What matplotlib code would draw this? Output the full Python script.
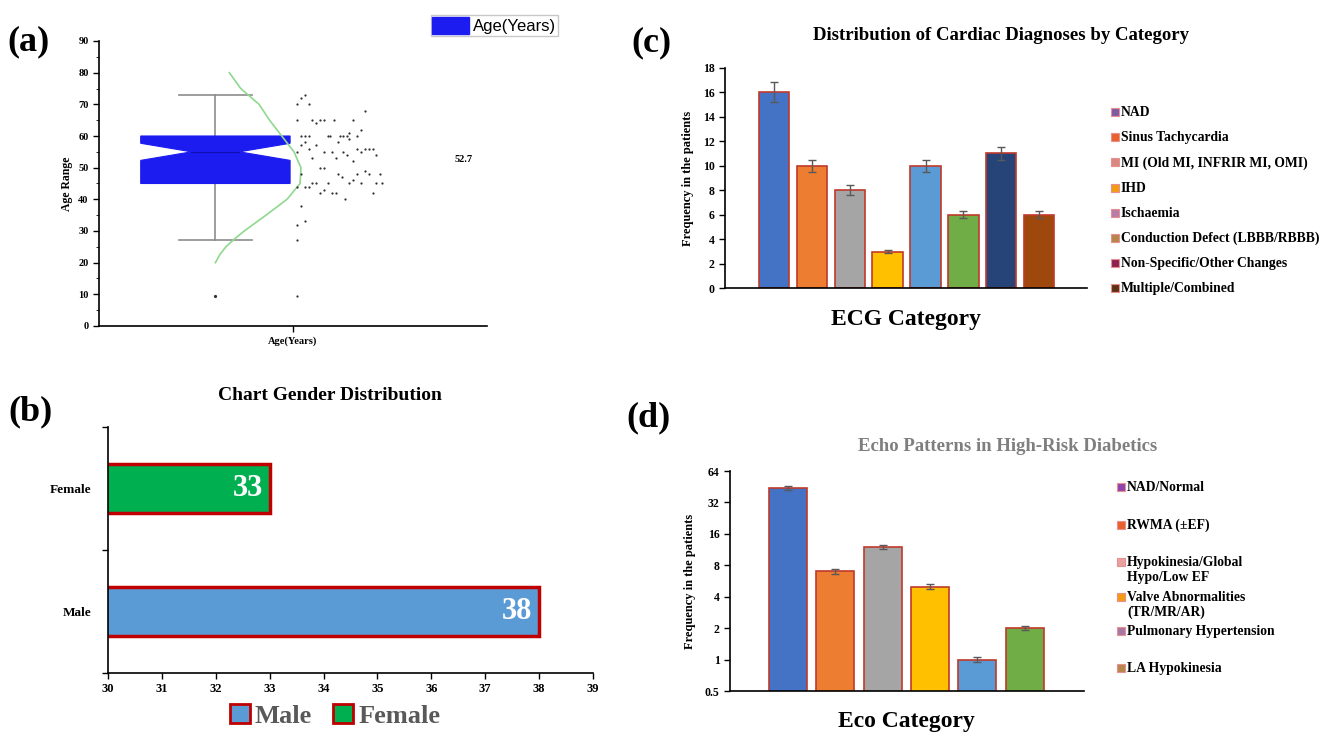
import numpy as np
import matplotlib
matplotlib.use("Agg")
import matplotlib.pyplot as plt
from matplotlib.patches import Patch, Rectangle
import matplotlib.patheffects as pe

plt.rcParams['font.family'] = ['Liberation Serif', 'DejaVu Serif']
plt.rcParams['font.weight'] = 'bold'
plt.rcParams['axes.labelweight'] = 'bold'

# ---- (a) age distribution ----
age_box = dict(q1=45, med=55, q3=60, whislo=27, whishi=73, cilo=52.3, cihi=57.7, fliers=[9.5])
age_mean_label = "52.7"
scatter_x = [1.06, 1.04, 1.02, 1.08, 1.02, 1.10, 1.14, 1.16, 1.21, 1.31, 1.12, 1.37, 1.35,
             1.04, 1.06, 1.08, 1.18, 1.19, 1.24, 1.26, 1.28, 1.33, 1.29, 1.29, 1.06, 1.23,
             1.04, 1.12, 1.08, 1.33, 1.37, 1.39, 1.41, 1.02, 1.16, 1.20, 1.26, 1.35, 1.43,
             1.28, 1.22, 1.10, 1.31, 1.14, 1.16, 1.04, 1.23, 1.33, 1.45, 1.39, 1.25, 1.37,
             1.10, 1.12, 1.18, 1.29, 1.35, 1.43, 1.46, 1.02, 1.06, 1.08, 1.31, 1.16, 1.14,
             1.20, 1.22, 1.41, 1.27, 1.04, 1.02, 1.06, 1.02, 1.02]
scatter_age = [73, 72, 70, 70, 65, 65, 65, 65, 65, 65, 64, 68, 62,
               60, 60, 60, 60, 60, 60, 60, 60, 60, 61, 59, 58, 58,
               57, 57, 56, 56, 56, 56, 56, 55, 55, 55, 55, 55, 54,
               54, 53, 53, 52, 50, 50, 48, 48, 48, 48, 48, 47, 49,
               45, 45, 45, 45, 45, 45, 45, 44, 44, 44, 46, 43, 42,
               42, 42, 42, 40, 38, 32, 33, 27, 9.5]
# distribution curve (age, relative width)
curve_age = [20, 22.5, 25, 27.5, 30, 35, 40, 45, 50, 55, 60, 65, 70, 75, 80]
curve_width = [0.0, 0.05, 0.12, 0.22, 0.33, 0.58, 0.82, 0.97, 0.98, 0.90, 0.76, 0.62, 0.50, 0.29, 0.16]

# ---- (b) gender ----
genders = ["Male", "Female"]
gender_counts = [38, 33]
gender_colors = ["#5B9BD5", "#00B050"]

# ---- (c) ECG ----
ecg_labels = ["NAD", "Sinus Tachycardia", "MI (Old MI, INFRIR MI, OMI)", "IHD", "Ischaemia",
              "Conduction Defect (LBBB/RBBB)", "Non-Specific/Other Changes", "Multiple/Combined"]
ecg_counts = [16, 10, 8, 3, 10, 6, 11, 6]
ecg_err = [0.8, 0.5, 0.4, 0.15, 0.5, 0.3, 0.55, 0.3]
ecg_bar_colors = ["#4472C4", "#ED7D31", "#A5A5A5", "#FFC000", "#5B9BD5", "#70AD47", "#264478", "#9E480E"]
ecg_legend_colors = ["#7D5BA6", "#E8602C", "#D98880", "#F39C12", "#B87DA8", "#B5874A", "#8B2252", "#5C3317"]

# ---- (d) Echo ----
eco_labels = ["NAD/Normal", "RWMA (\u00b1EF)", "Hypokinesia/Global\nHypo/Low EF",
              "Valve Abnormalities\n(TR/MR/AR)", "Pulmonary Hypertension", "LA Hypokinesia"]
eco_counts = [44, 7, 12, 5, 1, 2]
eco_err = [2.2, 0.35, 0.6, 0.25, 0.05, 0.1]
eco_bar_colors = ["#4472C4", "#ED7D31", "#A5A5A5", "#FFC000", "#5B9BD5", "#70AD47"]
eco_legend_colors = ["#8E44AD", "#E8602C", "#E8A0A0", "#F39C12", "#A678A6", "#B5874A"]

W, H = 1332, 733
fig = plt.figure(figsize=(W / 100, H / 100), dpi=100)


def px(x0, y_top, x1, y_bot):
    return [x0 / W, 1 - y_bot / H, (x1 - x0) / W, (y_bot - y_top) / H]


def fig_text(x, y, s, **kw):
    fig.text(x / W, 1 - y / H, s, **kw)


def side_legend(x, ys, labels, colors, size=9.8):
    for y, lab, c in zip(ys, labels, colors):
        fig.patches.append(Rectangle(((x) / W, 1 - (y + 4) / H), 8 / W, 8 / H,
                                     transform=fig.transFigure, facecolor=c,
                                     edgecolor="#E89090", lw=0.8))
        fig_text(x + 10, y - 6, lab, fontsize=size, va="top", ha="left", linespacing=1.15)


def clean(ax):
    ax.spines['top'].set_visible(False)
    ax.spines['right'].set_visible(False)
    for s in ['left', 'bottom']:
        ax.spines[s].set_linewidth(1.2)


# ================= (a) =================
ax = fig.add_axes(px(99, 41, 487, 326))
clean(ax)
pos, half, notch = 0.6, 0.385, 0.32
ax.bxp([dict(age_box, label="")], positions=[pos], widths=2 * half, showbox=False,
       capwidths=0.38,
       medianprops=dict(visible=False),
       whiskerprops=dict(color="#8C8C8C", lw=1.2),
       capprops=dict(color="#8C8C8C", lw=1.2),
       flierprops=dict(marker="o", markersize=1.3, markerfacecolor="#333333", markeredgecolor="#333333"))
b = age_box
ax.fill([pos - half, pos + half, pos + half, pos + half * notch, pos + half, pos + half,
         pos - half, pos - half, pos - half * notch, pos - half],
        [b['q1'], b['q1'], b['cilo'], b['med'], b['cihi'], b['q3'], b['q3'], b['cihi'], b['med'], b['cilo']],
        color="#1C1CF0", lw=0.8, ec="#1C1CF0", zorder=2)
ax.plot([pos - half * notch, pos + half * notch], [b['med'], b['med']], color="#1010B0", lw=0.8, zorder=3)
ax.scatter(scatter_x, scatter_age, s=2.6, color="#333333", zorder=3, lw=0)
ax.plot(pos + 0.45 * np.array(curve_width), curve_age, color="#8FD88F", lw=1.2)

ax.text(1.88, 52.5, age_mean_label, fontsize=7.5, ha="center", va="center")
ax.set_xlim(0, 2)
ax.set_ylim(0, 90)
ax.set_yticks(range(0, 91, 10))
ax.set_yticks(range(0, 91, 5), minor=True)
ax.set_xticks([1])
ax.set_xticklabels(["Age(Years)"])
ax.tick_params(labelsize=7.5, length=4, width=1)
ax.tick_params(which="minor", length=2.5)
ax.set_ylabel("Age Range", fontsize=8.5, labelpad=4)
fig.legend(handles=[Patch(facecolor="#1C1CF0", edgecolor="#1C1CF0")], labels=["Age(Years)"],
           loc="upper right", bbox_to_anchor=(558 / W, 1 - 15 / H),
           prop=dict(family="Liberation Sans", weight="normal", size=12),
           fancybox=False, edgecolor="#C8C8C8", framealpha=1,
           handlelength=2.2, handleheight=1.2, borderpad=0.1, handletextpad=0.25, borderaxespad=0)
fig_text(28, 42, "(a)", fontsize=26, ha="center", va="center")

# ================= (b) =================
ax = fig.add_axes(px(108, 427, 593, 673))
clean(ax)
bars = ax.barh([0, 1], gender_counts, height=0.4, color=gender_colors, edgecolor="#C00000", lw=2.5)
for bar in bars:
    bar.set_path_effects([pe.SimplePatchShadow(offset=(1.5, -1.5), alpha=0.35), pe.Normal()])
for y, v in zip([0, 1], gender_counts):
    ax.text(v - 0.12, y, str(v), color="white", fontsize=22, ha="right", va="center")
ax.set_xlim(30, 39)
ax.set_ylim(-0.5, 1.5)
ax.set_xticks(range(30, 40))
ax.set_yticks([-0.5, 0.5, 1.5])
ax.set_yticklabels([])
ax.set_yticks([0, 1], minor=True)
ax.set_yticklabels(genders, minor=True)
ax.tick_params(which="minor", length=0, pad=12)
ax.tick_params(labelsize=9, length=4, width=1)
ax.tick_params(axis="y", which="minor", labelsize=9.5)
fig_text(330, 395, "Chart Gender Distribution", fontsize=14, ha="center", va="center")
fig.legend(handles=[Patch(facecolor=c, edgecolor="#C00000", lw=2) for c in gender_colors],
           labels=genders, loc="center", bbox_to_anchor=(335 / W, 1 - 716 / H), ncol=2,
           frameon=False, prop=dict(size=19), labelcolor="#595959",
           handlelength=0.75, handleheight=0.75, handletextpad=0.2, columnspacing=0.8)
fig_text(30, 412, "(b)", fontsize=26, ha="center", va="center")

# ================= (c) =================
ax = fig.add_axes(px(725, 67.7, 1087, 288.3))
clean(ax)
xc = np.arange(len(ecg_counts))
ax.bar(xc, ecg_counts, width=0.8, color=ecg_bar_colors, edgecolor="#C0392B", lw=1.2,
       yerr=ecg_err, ecolor="#595959", capsize=3, error_kw=dict(lw=1))
ax.set_xlim(-1.29, 8.26)
ax.set_ylim(0, 18)
ax.set_yticks(range(0, 19, 2))
ax.set_xticks([])
ax.tick_params(labelsize=8.5, length=4, width=1)
ax.set_ylabel("Frequency in the patients", fontsize=9, labelpad=6)
fig_text(1001, 36, "Distribution of Cardiac Diagnoses by Category", fontsize=13.5, ha="center", va="center")
fig_text(906, 320, "ECG Category", fontsize=17, ha="center", va="center")
fig_text(651, 43, "(c)", fontsize=26, ha="center", va="center")
side_legend(1111, [112 + 25.2 * i for i in range(len(ecg_labels))], ecg_labels, ecg_legend_colors)

# ================= (d) =================
ax = fig.add_axes(px(730, 471, 1084, 691))
clean(ax)
xd = np.arange(len(eco_counts))
ax.bar(xd, eco_counts, width=0.8, color=eco_bar_colors, edgecolor="#C0392B", lw=1.2,
       yerr=eco_err, ecolor="#595959", capsize=3, error_kw=dict(lw=1))
ax.set_yscale("log", base=2)
ax.set_ylim(0.5, 64)
ax.set_yticks([0.5, 1, 2, 4, 8, 16, 32, 64])
ax.set_yticklabels(["0.5", "1", "2", "4", "8", "16", "32", "64"])
ax.yaxis.set_minor_locator(matplotlib.ticker.NullLocator())
ax.set_xlim(-1.22, 6.25)
ax.set_xticks([])
ax.tick_params(labelsize=8.5, length=4, width=1)
ax.set_ylabel("Frequency in the patients", fontsize=9, labelpad=6)
fig_text(1008, 447, "Echo Patterns in High-Risk Diabetics", fontsize=13.5, ha="center", va="center",
         color="#7F7F7F")
fig_text(906, 721, "Eco Category", fontsize=17, ha="center", va="center")
fig_text(648, 418, "(d)", fontsize=26, ha="center", va="center")
side_legend(1117, [487, 525, 562, 597, 631, 668], eco_labels, eco_legend_colors)

fig.savefig("out.png", dpi=100)
